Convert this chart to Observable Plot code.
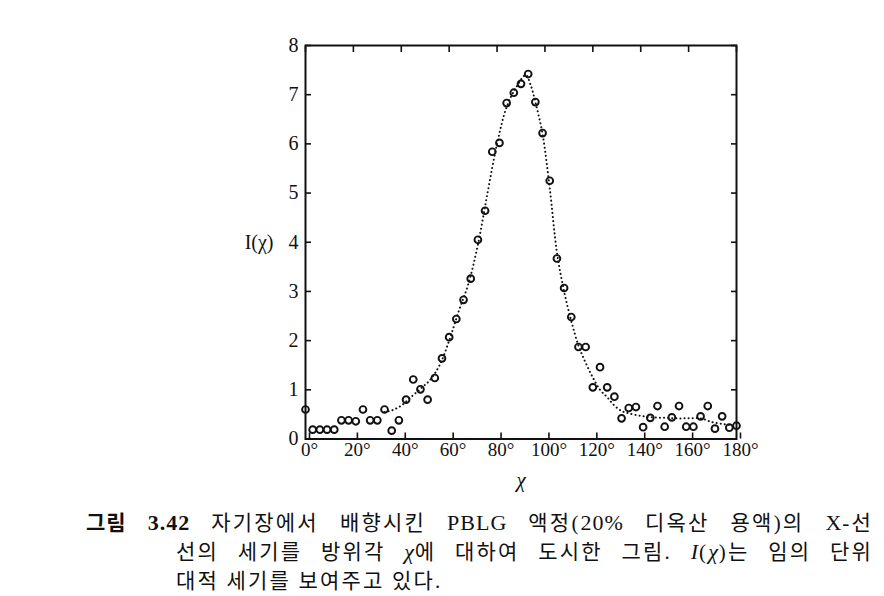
<!DOCTYPE html>
<html>
<head>
<meta charset="utf-8">
<script src="https://cdn.jsdelivr.net/npm/d3@7"></script>
<script src="https://cdn.jsdelivr.net/npm/@observablehq/plot@0.6"></script>
<style>
  html, body { margin: 0; padding: 0; background: #fff; }
  #wrap { position: relative; width: 884px; height: 596px; overflow: hidden; }
  .cap { position: absolute; font-family: "Liberation Serif", "Noto Sans CJK KR", serif; font-size: 21px; line-height: 26px; color: #111; white-space: nowrap; letter-spacing: 2.2px; }
  .just { text-align: justify; text-align-last: justify; white-space: normal; }
  .cap b { font-weight: 700; }
  .lat { font-size: 22px; letter-spacing: 1px; }
</style>
</head>
<body>
<div id="wrap"></div>
<script>
// measured angles (degrees) and intensities
const chi = [0,3,6,9,12,15,18,21,24,27,30,33,36,39,42,45,48,51,54,57,60,63,66,69,72,75,78,81,84,87,90,93,96,99,102,105,108,111,114,117,120,123,126,129,132,135,138,141,144,147,150,153,156,159,162,165,168,171,174,177,180];
const intensity = [0.60,0.19,0.19,0.19,0.19,0.38,0.38,0.36,0.60,0.38,0.38,0.60,0.17,0.38,0.80,1.21,1.01,0.80,1.24,1.64,2.07,2.44,2.83,3.26,4.05,4.64,5.84,6.02,6.83,7.04,7.22,7.42,6.85,6.22,5.25,3.67,3.07,2.48,1.87,1.87,1.05,1.46,1.05,0.86,0.42,0.63,0.65,0.24,0.43,0.67,0.25,0.44,0.67,0.25,0.25,0.46,0.67,0.21,0.46,0.23,0.27];

// dotted guide curve
const curveChi = [33,36,40,44,48,52,56,60,64,68,72,76,80,84,88,92,94,96,99,102,105,108,111,114,117,120,123,126,129,132,135,140,145,150,155,160,165,170,175,178];
const curveI = [0.55,0.58,0.68,0.85,1.02,1.20,1.50,2.00,2.60,3.15,3.95,5.00,6.00,6.75,7.15,7.40,7.20,6.85,6.20,5.10,3.80,3.00,2.40,1.90,1.55,1.25,1.00,0.85,0.68,0.57,0.52,0.47,0.44,0.43,0.42,0.42,0.42,0.34,0.30,0.28];

const xTicks = [0,20,40,60,80,100,120,140,160,180];
const yTicks = [0,1,2,3,4,5,6,7,8];
const xLabel = "χ";
const yLabel = "I(χ)";

// caption lines
const caption1 = "<b style='font-family:Noto Sans CJK KR;letter-spacing:1px'>그림</b> <b class='lat'>3.42</b> 자기장에서 배향시킨 <span class='lat'>PBLG</span> 액정(<span class='lat'>20%</span> 디옥산 용액)의 <span class='lat'>X</span>-선";
const caption2 = "선의 세기를 방위각 <i class='lat'>χ</i>에 대하여 도시한 그림. <i class='lat'>I</i>(<i class='lat'>χ</i>)는 임의 단위";
const caption3 = "대적 세기를 보여주고 있다.";

const pts = chi.map((c, i) => ({chi: c, I: intensity[i]}));
const curve = curveChi.map((c, i) => ({chi: c, I: curveI[i]}));

const font = "Liberation Serif, DejaVu Serif, serif";

const chart = Plot.plot({
  width: 884,
  height: 500,
  marginLeft: 305,
  marginRight: 148,
  marginTop: 45,
  marginBottom: 61.5,
  style: {fontFamily: font, fontSize: "20px", color: "#111", background: "#fff"},
  x: {domain: [0, 180]},
  y: {domain: [0, 8]},
  marks: [
    Plot.line(curve, {x: "chi", y: "I", curve: "catmull-rom", stroke: "#111", strokeWidth: 2, strokeDasharray: "0.1,4", strokeLinecap: "round"}),
    Plot.dot(pts, {x: "chi", y: "I", r: 3.4, stroke: "#111", strokeWidth: 1.9, fill: "none"}),
    Plot.axisX({anchor: "bottom", ticks: xTicks, tickSize: -6, tickPadding: 9, tickFormat: d => d + "°", dx: 4, label: null, fontSize: 19, strokeWidth: 1.6}),
    Plot.axisX({anchor: "top", ticks: xTicks, tickSize: -6, tickFormat: () => "", label: null, strokeWidth: 1.6}),
    Plot.axisY({anchor: "left", ticks: yTicks, tickSize: -6, tickPadding: 13, tickFormat: d => d, label: null, fontSize: 20, strokeWidth: 1.6}),
    Plot.axisY({anchor: "right", ticks: yTicks, tickSize: -6, tickFormat: () => "", label: null, strokeWidth: 1.6}),
    Plot.frame({stroke: "#111", strokeWidth: 2}),
    Plot.text([yLabel], {frameAnchor: "left", y: () => 4, dx: -32, textAnchor: "end", fontSize: 20, fill: "#111"}),
    Plot.text([xLabel], {frameAnchor: "bottom", x: () => 90, dy: 48, fontSize: 21, fontStyle: "italic", fill: "#111"})
  ]
});

const wrap = document.getElementById("wrap");
chart.style.position = "absolute";
chart.style.left = "0px";
chart.style.top = "0px";
wrap.appendChild(chart);

const lines = [
  {html: caption1, left: 86, width: 787, top: 508, just: true},
  {html: caption2, left: 176, width: 697, top: 539, just: true},
  {html: caption3, left: 176, width: 400, top: 568, just: false}
];
for (const l of lines) {
  const d = document.createElement("div");
  d.className = "cap" + (l.just ? " just" : "");
  d.style.left = l.left + "px";
  d.style.top = l.top + "px";
  d.style.width = l.width + "px";
  d.innerHTML = l.html;
  wrap.appendChild(d);
}
</script>
</body>
</html>
